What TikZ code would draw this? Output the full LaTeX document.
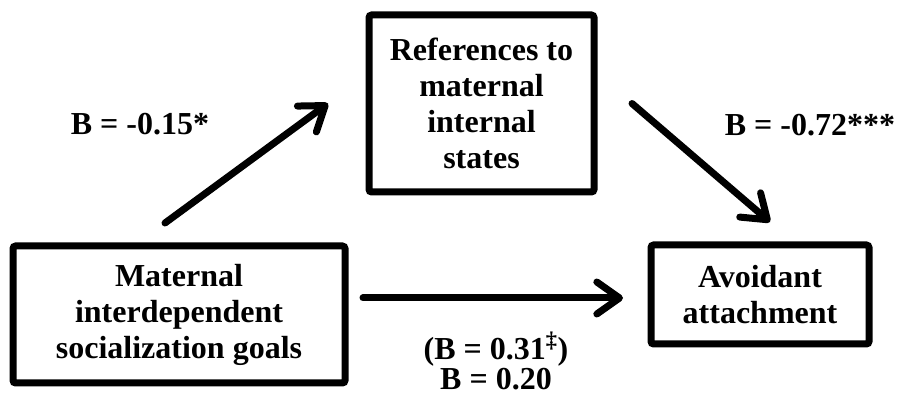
\documentclass[tikz,border=0pt]{standalone}
\usepackage{fontspec}
\setmainfont{Liberation Serif}
\usetikzlibrary{arrows.meta}
\tikzset{box/.style={draw,line width=5.25pt,rounded corners=2pt,align=center,inner sep=0pt,font=\bfseries\fontsize{24}{27}\selectfont}}
\tikzset{link/.style={line width=5.25pt,line cap=round,-{Straight Barb[length=17pt,width=24pt,round]},preaction={draw=black!22,transform canvas={shift={(1.2pt,-1.8pt)}}}}}
\tikzset{coef/.style={align=center,font=\bfseries\fontsize{24}{22.5}\selectfont}}

\begin{document}
\begin{tikzpicture}[x=0.75pt,y=-0.75pt]
\useasboundingbox (0,0) rectangle (899,398);
\node[box,minimum width=168.75pt,minimum height=132.75pt] (refs) at (481.5,103.5) {References to\\maternal\\internal\\states};
\node[box,minimum width=249pt,minimum height=102.75pt] (goals) at (179,314.5) {Maternal\\interdependent\\socialization goals};
\node[box,minimum width=163.5pt,minimum height=74.25pt] (avoid) at (760,294.5) {Avoidant\\attachment};
\draw[link] ([shift={(-14,-91.5)}]goals.center) -- ([shift={(-37.5,0)}]refs.west);
\draw[link] ([shift={(34.5,0)}]refs.east) -- ([shift={(10,-19.5)}]avoid.north);
\draw[link] ([shift={(14.5,-16.5)}]goals.east) -- ([shift={(-24.5,3.5)}]avoid.west);
\node[coef] (ba) at (140,124) {B = -0.15*};
\node[coef] (bb) at (810,125) {B = -0.72***};
\node[coef] (bc) at (496,361) {(B = 0.31\textsuperscript{‡})\\B = 0.20};
\end{tikzpicture}
\end{document}
